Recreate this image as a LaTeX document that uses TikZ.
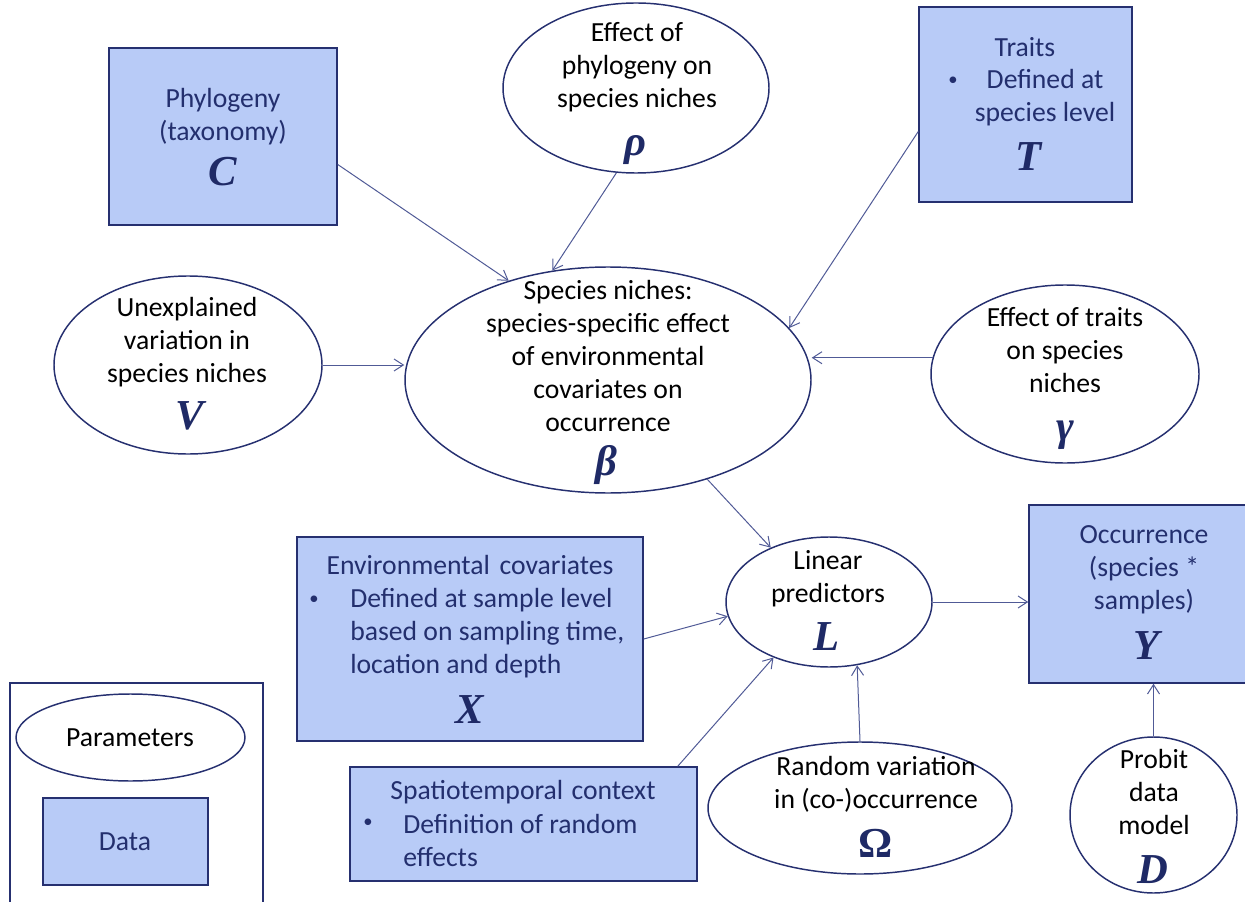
\documentclass[tikz,border=0pt]{standalone}
\usepackage{fontspec}
\setmainfont{Carlito}
\newfontfamily\symf{Liberation Serif}
\usetikzlibrary{shapes.geometric,arrows.meta,calc,fit}
\definecolor{boxfill}{HTML}{B8CBF7}
\definecolor{edge}{HTML}{263070}
\definecolor{navytext}{HTML}{232F6E}
\definecolor{symcol}{HTML}{1F2A66}
\definecolor{arrcol}{HTML}{505A96}
\begin{document}
\begin{tikzpicture}[x=0.75pt,y=-0.75pt,
 databox/.style={draw=edge, fill=boxfill, line width=1.1pt, rectangle, inner sep=0},
 param/.style={draw=edge, line width=1.1pt, ellipse, inner sep=0},
 txt/.style={font=\fontsize{20.75}{24.75}\selectfont, align=center, inner sep=0},
 dtxt/.style={txt, text=navytext},
 ltxt/.style={dtxt, align=left},
 bul/.style={text=navytext, font=\fontsize{14}{14}\selectfont, inner sep=0},
 sym/.style={font=\fontsize{32}{32}\symf\bfseries\itshape, text=symcol, inner sep=0},
 arr/.style={draw=arrcol, line width=0.75pt, -{Straight Barb[length=7pt,width=9pt]}}]
\useasboundingbox (0,0) rectangle (1245,902);

% data boxes
\node[databox, fit={(109,48) (337,225)}] (phy) {};
\node[databox, fit={(919,7) (1132,202)}] (traits) {};
\node[databox, fit={(297,537) (643,741)}] (env) {};
\node[databox, fit={(1029,505) (1260,683)}] (occ) {};
\node[databox, fit={(350,767) (697,881)}] (spat) {};

% parameter ellipses
\node[param, minimum width=199.5pt, minimum height=127.5pt] (rho) at (636,88) {};
\node[param, minimum width=304.5pt, minimum height=169.5pt] (niche) at (608,380) {};
\node[param, minimum width=201pt, minimum height=133.5pt] (V) at (188,365) {};
\node[param, minimum width=201pt, minimum height=133.5pt] (gam) at (1065,374) {};
\node[param, minimum width=154.5pt, minimum height=97.5pt] (lp) at (829,602) {};
\node[param, minimum width=228pt, minimum height=99pt] (om) at (860,808) {};
\node[param, minimum width=125.25pt, minimum height=117pt] (prob) at (1153.5,815) {};

% legend
\node[draw=edge, line width=1.1pt, rectangle, inner sep=0, fit={(10,683) (263,915)}] (legend) {};
\node[param, minimum width=171.75pt, minimum height=65.25pt] (legpar) at (130.5,737.5) {};
\node[databox, fit={(43,798) (208,885)}] (legdata) {};

% texts
\node[dtxt] (phyT) at (223,117) {Phylogeny\\(taxonomy)};
\node[sym] (phyS) at (223,172) {C};
\node[txt] (rhoT) at (637,67) {Effect of\\phylogeny on\\species niches};
\node[sym] (rhoS) at (635,150) {ρ};
\node[dtxt] (trT) at (1025,47) {Traits};
\node[bul] (trB) at (953,81) {•};
\node[dtxt] (trD) at (1045,98) {Defined at\\species level};
\node[sym] (trS) at (1029,157) {T};
\node[txt] (nicheT) at (608,356) {Species niches:\\species-specific effect\\of environmental\\covariates on\\occurrence};
\node[sym] (nicheS) at (606,465) {β};
\node[txt] (VT) at (187,342) {Unexplained\\variation in\\species niches};
\node[sym] (VS) at (190,416) {V};
\node[txt] (gamT) at (1065,350) {Effect of traits\\on species\\niches};
\node[sym] (gamS) at (1065,435) {γ};
\node[txt] (lpT) at (828,579) {Linear\\predictors};
\node[sym] (lpS) at (827,637) {L};
\node[dtxt] (envT) at (470,565) {Environmental\hspace{0.35em}covariates};
\node[bul] (envB) at (314,600) {•};
\node[ltxt, anchor=west] (envD) at (350,633) {Defined at sample level\\based on sampling time,\\location and depth};
\node[sym] (envS) at (470,710) {X};
\node[dtxt] (occT) at (1144,570) {Occurrence\\(species *\\samples)};
\node[sym] (occS) at (1147,646) {Y};
\node[dtxt] (spT) at (523,792) {Spatiotemporal\hspace{0.3em}context};
\node[bul] (spB) at (368,823) {•};
\node[ltxt, anchor=west] (spD) at (403,840) {Definition of random\\effects};
\node[txt] (omT) at (876,784) {Random variation\\in (co-)occurrence};
\node[sym, font=\fontsize{32}{32}\symf\bfseries] (omS) at (876,843) {Ω};
\node[txt] (probT) at (1154,792) {Probit\\data\\model};
\node[sym] (probS) at (1153,870) {D};
\node[txt] (legPT) at (130,738) {Parameters};
\node[dtxt] (legDT) at (125,842) {Data};

% connectors
\draw[arr] ($(phy.east)+(0,28)$) -- (niche.135);
\draw[arr] (rho.257) -- (niche.117);
\draw[arr] ($(traits.west)+(0,27)$) -- (niche.16);
\draw[arr] (V.east) -- (V.east -| niche.west);
\draw[arr] (gam.173) -- (gam.173 -| niche.east);
\draw[arr] (niche.-45) -- (lp.137);
\draw[arr] (env.east) -- (lp.188);
\draw[arr] ($(spat.north east)+(-20,0)$) -- (lp.225);
\draw[arr] (om.north) -- (lp.-66);
\draw[arr] (lp.east) -- (lp.east -| occ.west);
\draw[arr] (prob.north) -- (prob.north |- occ.south);
\end{tikzpicture}
\end{document}
